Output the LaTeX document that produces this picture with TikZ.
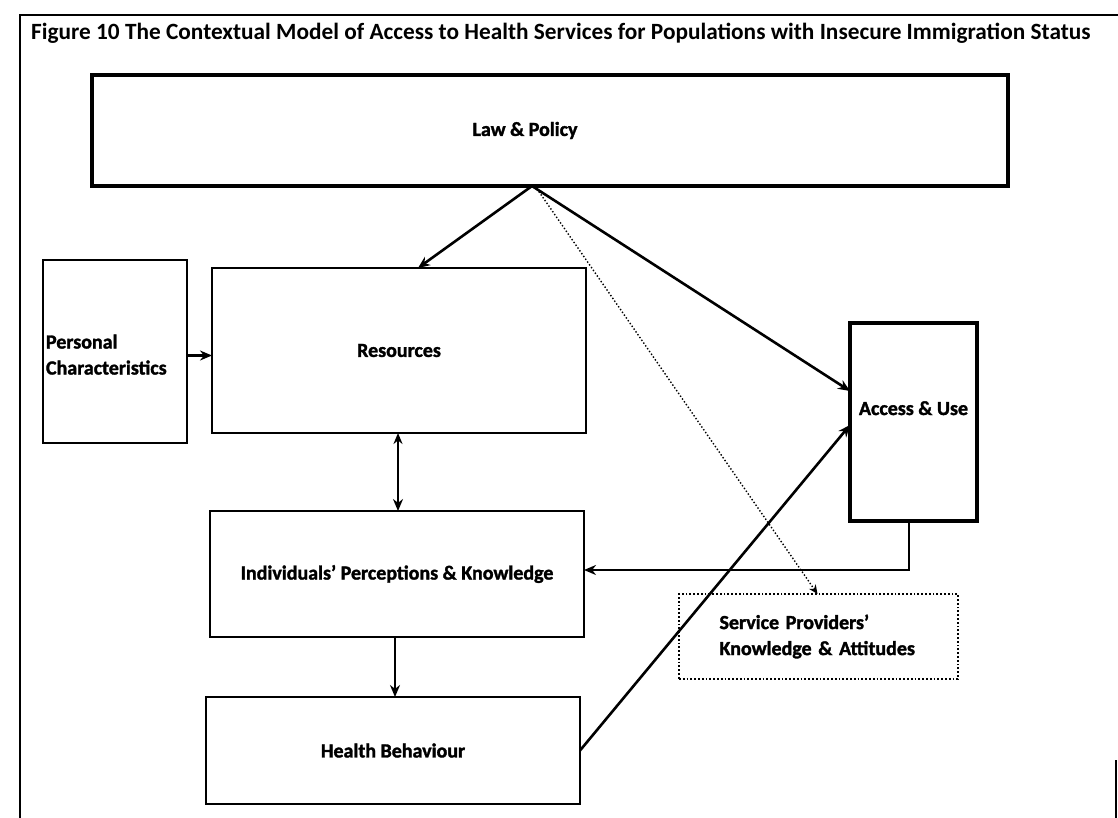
\documentclass[tikz,border=0pt]{standalone}
\usepackage{fontspec}
\setmainfont{Carlito}
\newfontfamily\heavyfont{Carlito}[UprightFont={* Bold}, FakeBold=1.6]
\usetikzlibrary{arrows.meta,calc}
\begin{document}
\begin{tikzpicture}[x=1pt,y=-1pt,
  box/.style={draw, line width=2.8pt, rectangle, inner sep=0pt, outer sep=0pt,
    font=\fontsize{20}{26}\selectfont\heavyfont},
  thickbox/.style={box, line width=4.8pt},
  dotbox/.style={box, line width=1.8pt, dotted},
  conn/.style={line width=2.6pt, -{Stealth[length=12pt,width=10pt]}},
  dualconn/.style={line width=2.6pt, {Stealth[length=11pt,width=9pt]}-{Stealth[length=12pt,width=10pt]}},
  dotconn/.style={line width=1.4pt, dotted, -{Stealth[length=9pt,width=8pt]}},
  frame/.style={line width=1.8pt}]
\useasboundingbox[fill=white] (0,0) rectangle (1118,818);
% frame
\draw[frame] (20,818) -- (20,15) -- (1118,15);
\draw[frame] (1116,760) -- (1116,818);
% title
\node[anchor=west, inner sep=0pt, font=\fontsize{23.3}{26}\selectfont\bfseries] (title) at (31,33)
  {Figure 10 The Contextual Model of Access to Health Services for Populations with Insecure Immigration Status};
% boxes
\node[thickbox, minimum width=916pt, minimum height=111pt] (law) at (550,130.5) {Law \& Policy\hspace*{50pt}};
\node[box, minimum width=144pt, minimum height=183pt, text width=138pt, inner xsep=3pt, align=left] (pers) at (115,351.5)
  {\raisebox{-10pt}[0pt][0pt]{\begin{tabular}{@{}l@{}}Personal\\Characteristics\end{tabular}}};
\node[box, minimum width=374pt, minimum height=165pt] (res) at (399,350.5) {Resources};
\node[thickbox, minimum width=127pt, minimum height=198pt] (acc) at (913.5,422) {\raisebox{7pt}[0pt][0pt]{Access \& Use}};
\node[box, minimum width=374pt, minimum height=126pt] (ind) at (397,574) {Individuals’ Perceptions \& Knowledge};
\node[dotbox, minimum height=85pt, text width=220pt, inner xsep=29.5pt, align=left] (sp) at (818.5,636.5)
  {\hspace*{11pt}\mbox{Service Providers’}\\\hspace*{11pt}\mbox{Knowledge \& Attitudes}};
\node[box, minimum width=374pt, minimum height=107pt] (hb) at (393,750.5) {Health Behaviour};
% connectors
\draw[conn] ([xshift=-18pt]law.south) -- ([xshift=19pt]res.north);
\draw[conn] ([xshift=-18pt]law.south) -- ([yshift=31pt]acc.west);
\draw[dotconn] ([xshift=-15pt]law.south) -- ([xshift=-1pt]sp.north);
\draw[conn] ([yshift=-4pt]pers.east) -- ([yshift=-4pt]pers.east -| res.west);
\draw[dualconn] ([xshift=-1pt]res.south) -- ([xshift=-1pt]res.south |- ind.north);
\draw[conn] ([xshift=-2pt]ind.south) -- ([xshift=-2pt]ind.south |- hb.north);
\draw[conn] (hb.east) -- ([yshift=-3pt]acc.west);
\draw[conn] ([xshift=-4.5pt]acc.south) |- ([yshift=4pt]ind.east);
\end{tikzpicture}
\end{document}
